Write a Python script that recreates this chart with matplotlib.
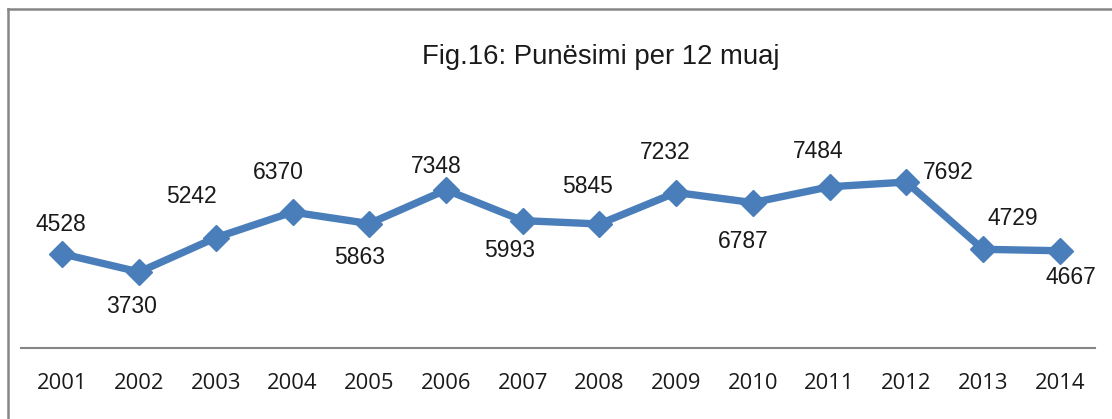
import matplotlib
matplotlib.use("Agg")
import matplotlib.pyplot as plt
from matplotlib.lines import Line2D

# data
years = ["2001", "2002", "2003", "2004", "2005", "2006", "2007",
         "2008", "2009", "2010", "2011", "2012", "2013", "2014"]
values = [4528, 3730, 5242, 6370, 5863, 7348, 5993,
          5845, 7232, 6787, 7484, 7692, 4729, 4667]
# label offsets (pixels) from each point, as placed in the original
label_dx = [-2, -8, -24, -14, -10, -10, -13, -12, -11, -10, -11, 42, 30, 11]
label_dy = [29, -35, 41, 40, -34, 23, -30, 37, 40, -39, 35, 10, 31, -27]

blue = "#4A7EBB"
W, H = 1112, 419

fig = plt.figure(figsize=(W / 100, H / 100), dpi=100)
fig.patch.set_facecolor("white")

# axes box in pixel terms
left_px, right_px, top_px, bot_px = 21, 1095, 100, 348
ax = fig.add_axes([left_px / W, 1 - bot_px / H,
                   (right_px - left_px) / W, (bot_px - top_px) / H])

x = list(range(len(years)))
ax.plot(x, values, color=blue, lw=5.3, marker="D", ms=13,
        mfc=blue, mec=blue, solid_joinstyle="miter", zorder=3)

for i, v in enumerate(values):
    ax.annotate(str(v), (x[i], v), xytext=(label_dx[i], label_dy[i]),
                textcoords="offset pixels", ha="center", va="center",
                fontsize=16.5, family="Liberation Sans", color="#1a1a1a")

ax.set_xlim(-0.54, len(years) - 0.54)
ax.set_ylim(382, 11307)
ax.set_xticks(x)
ax.set_xticklabels(years, family="Open Sans", fontsize=15.8, color="#1a1a1a")
ax.tick_params(axis="x", length=0, pad=18)
ax.set_yticks([])
for s in ["top", "right", "left"]:
    ax.spines[s].set_visible(False)
ax.spines["bottom"].set_color("#868686")
ax.spines["bottom"].set_linewidth(1.5)
ax.patch.set_alpha(0)

fig.text(601 / W, 1 - 57 / H, "Fig.16: Punësimi per 12 muaj",
         ha="center", va="center", fontsize=19.8,
         family="Liberation Sans", color="#1a1a1a")

# outer chart border (top and left edges visible in the crop)
fig.add_artist(Line2D([8 / W, 8 / W], [0, 1 - 9 / H],
                      transform=fig.transFigure, color="#868686", lw=1.8))
fig.add_artist(Line2D([8 / W, 1], [1 - 9 / H, 1 - 9 / H],
                      transform=fig.transFigure, color="#868686", lw=1.8))

fig.savefig("out.png", dpi=100)
